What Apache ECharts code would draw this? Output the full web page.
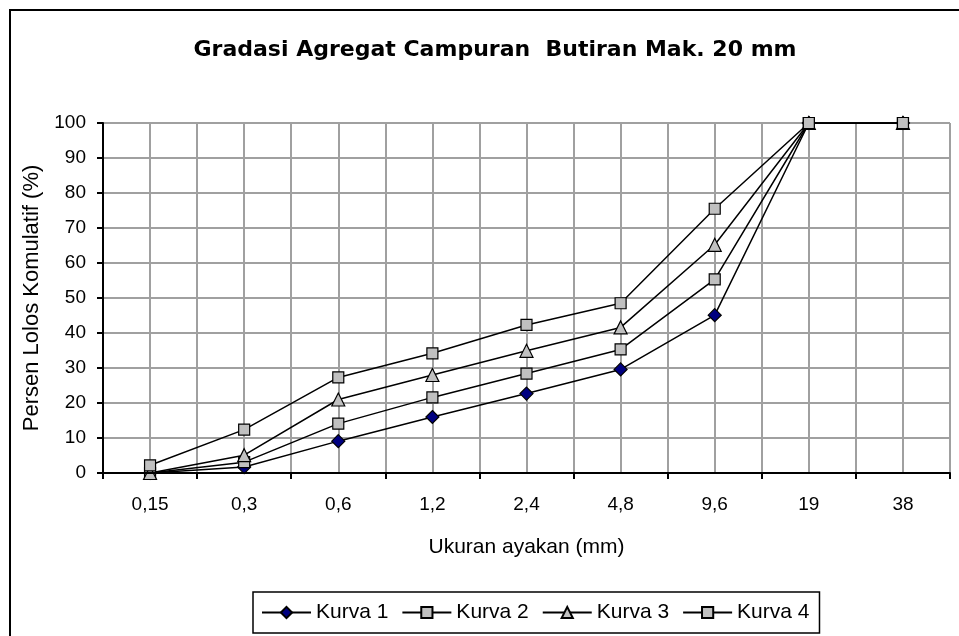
<!DOCTYPE html>
<html>
<head>
    <meta charset="utf-8">
    <script src="https://cdn.jsdelivr.net/npm/echarts@6/dist/echarts.min.js"></script>
</head>
<body style="margin:0">
<div id="main" style="width:959px;height:636px;"></div>
<script type="text/javascript">
    // ukuran ayakan (mm)
    var categories = ['0,15', '0,3', '0,6', '1,2', '2,4', '4,8', '9,6', '19', '38'];
    // persen lolos komulatif (%)
    var kurva1 = [0, 1.7, 9.1, 16.0, 22.7, 29.6, 45.1, 100, 100];
    var kurva2 = [0, 3.1, 14.1, 21.6, 28.4, 35.3, 55.3, 100, 100];
    var kurva3 = [0, 5.1, 21.0, 28.0, 34.9, 41.6, 65.2, 100, 100];
    var kurva4 = [2.2, 12.4, 27.3, 34.2, 42.3, 48.5, 75.5, 100, 100];

    var fontName = 'Liberation Sans';

    function makeSeries(name, data, symbol, fill, size) {
        return {
            name: name,
            type: 'line',
            data: data,
            symbol: symbol,
            symbolSize: size,
            showAllSymbol: true,
            lineStyle: {color: '#000', width: 1.5},
            itemStyle: {color: fill, borderColor: '#000', borderWidth: 1.2},
            emphasis: {disabled: true},
            z: 3
        };
    }

    var myChart = echarts.init(document.getElementById('main'));
    myChart.setOption({
        animation: false,
        backgroundColor: '#fff',
        title: {
            text: 'Gradasi Agregat Campuran  Butiran Mak. 20 mm',
            left: 490,
            top: 34,
            textAlign: 'center',
            textStyle: {fontFamily: 'DejaVu Sans', fontWeight: 'bold', fontSize: 22, color: '#000'}
        },
        graphic: [{
            type: 'rect',
            shape: {x: 10, y: 10, width: 1000, height: 1000},
            style: {fill: 'none', stroke: '#000', lineWidth: 2},
            silent: true
        }],
        grid: {left: 103, right: 9, top: 123, bottom: 163},
        legend: {
            left: 253,
            top: 592,
            padding: [10, 10, 10, 8],
            itemGap: 13,
            itemWidth: 49,
            itemHeight: 14,
            borderColor: '#000',
            borderWidth: 1.5,
            textStyle: {fontFamily: fontName, fontSize: 21, color: '#000'},
            data: ['Kurva 1', 'Kurva 2', 'Kurva 3', 'Kurva 4']
        },
        xAxis: [{
            type: 'category',
            data: categories,
            boundaryGap: true,
            name: 'Ukuran ayakan (mm)',
            nameLocation: 'middle',
            nameGap: 64,
            nameTextStyle: {fontFamily: fontName, fontSize: 21, color: '#000'},
            axisLine: {lineStyle: {color: '#000', width: 2}},
            axisTick: {show: true, length: 6, lineStyle: {color: '#000', width: 2}},
            axisLabel: {margin: 22, fontFamily: fontName, fontSize: 19, color: '#000'},
            splitLine: {show: false},
            z: 5
        }, {
            // half-slot grid lines (boundaries and centres)
            type: 'value',
            min: 0,
            max: 18,
            interval: 1,
            position: 'bottom',
            axisLine: {show: false},
            axisTick: {show: false},
            axisLabel: {show: false},
            splitLine: {show: true, lineStyle: {color: '#a0a0a0', width: 2}}
        }],
        yAxis: {
            type: 'value',
            min: 0,
            max: 100,
            interval: 10,
            name: 'Persen Lolos Komulatif (%)',
            nameLocation: 'middle',
            nameGap: 58,
            nameTextStyle: {fontFamily: fontName, fontSize: 22, color: '#000'},
            axisLine: {show: true, lineStyle: {color: '#000', width: 2}},
            axisTick: {show: true, length: 6, lineStyle: {color: '#000', width: 2}},
            axisLabel: {margin: 17, fontFamily: fontName, fontSize: 19, color: '#000'},
            splitLine: {show: true, lineStyle: {color: '#a0a0a0', width: 2}}
        },
        series: [
            makeSeries('Kurva 1', kurva1, 'diamond', '#000080', 13),
            makeSeries('Kurva 2', kurva2, 'rect', '#c0c0c0', 11),
            makeSeries('Kurva 3', kurva3, 'triangle', '#c0c0c0', 13),
            makeSeries('Kurva 4', kurva4, 'rect', '#c0c0c0', 11)
        ]
    });
</script>
</body>
</html>
